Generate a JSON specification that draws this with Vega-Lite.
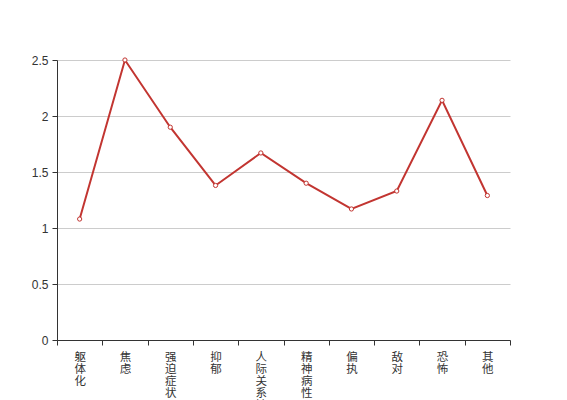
{
  "$schema": "https://vega.github.io/schema/vega-lite/v6.json",
  "autosize": "none",
  "width": 453,
  "height": 280,
  "padding": {"left": 57, "top": 60, "right": 57, "bottom": 60},
  "config": {"view": {"stroke": null}, "font": "Noto Sans CJK SC"},
  "data": {"values": [
    {"c": "躯体化", "v": 1.08},
    {"c": "焦虑", "v": 2.5},
    {"c": "强迫症状", "v": 1.9},
    {"c": "抑郁", "v": 1.38},
    {"c": "人际关系敏感", "v": 1.67},
    {"c": "精神病性", "v": 1.4},
    {"c": "偏执", "v": 1.17},
    {"c": "敌对", "v": 1.33},
    {"c": "恐怖", "v": 2.14},
    {"c": "其他", "v": 1.29}
  ]},
  "mark": {"type": "line", "color": "#c23531", "strokeWidth": 2,
    "point": {"filled": true, "fill": "white", "stroke": "#c23531", "strokeWidth": 1, "size": 18}},
  "encoding": {
    "x": {"field": "c", "type": "nominal", "sort": null, "bandPosition": 0.5,
      "scale": {"type": "band", "paddingInner": 0, "paddingOuter": 0},
      "axis": {"title": null, "labelAngle": 0, "labelExpr": "split(datum.label, '')",
        "labelLineHeight": 12, "labelFontSize": 11.5, "labelColor": "#333", "labelPadding": 6,
        "labelBaseline": "top", "domainColor": "#333", "tickColor": "#333", "tickSize": 5,
        "tickBand": "extent", "grid": false}},
    "y": {"field": "v", "type": "quantitative",
      "scale": {"domain": [0, 2.5], "nice": false},
      "axis": {"title": null, "values": [0, 0.5, 1, 1.5, 2, 2.5], "format": "~g",
        "labelFontSize": 12, "labelColor": "#333", "labelFont": "Liberation Sans", "labelPadding": 4,
        "domainColor": "#333", "tickColor": "#333", "tickSize": 5,
        "gridColor": "#ccc", "gridWidth": 1}}
  }
}
